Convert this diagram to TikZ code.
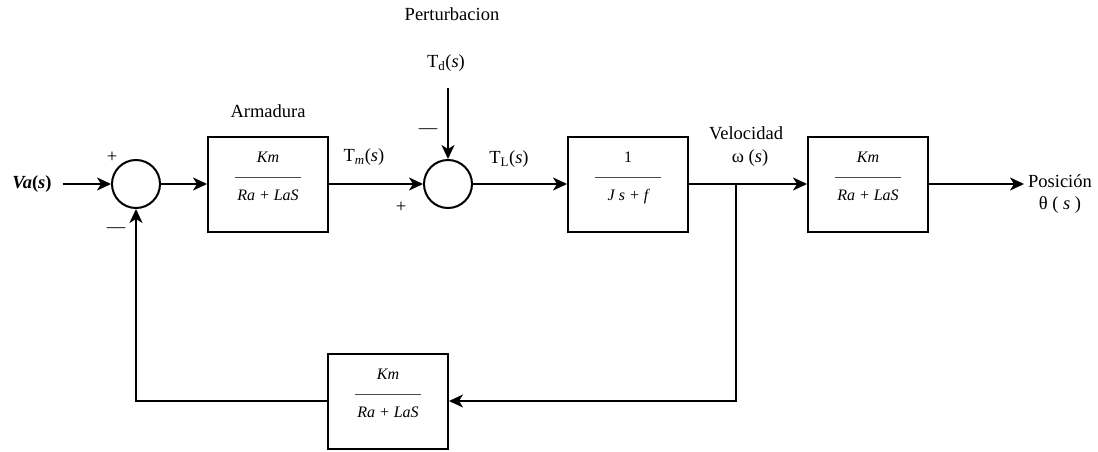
\documentclass[tikz,border=0pt]{standalone}
\usepackage{fontspec}
\setmainfont{Liberation Serif}
\usetikzlibrary{arrows.meta}
\begin{document}
\begin{tikzpicture}[x=1pt,y=1pt,
  blk/.style={draw, line width=2pt, minimum width=120pt, minimum height=95pt, inner sep=0pt},
  sumc/.style={draw, circle, line width=2pt, minimum size=48pt, inner sep=0pt},
  arr/.style={line width=1.9pt, -{Stealth[length=14pt,width=13pt,inset=4pt]}},
  lab/.style={font=\fontsize{18.5}{21}\selectfont, inner sep=0pt},
  fr/.style={font=\fontsize{16}{18}\selectfont\itshape, inner sep=0pt, anchor=base},
  fline/.style={line width=0.9pt, black!70},
]
\useasboundingbox (0,0) rectangle (1098,-452);

% blocks and summing points
\node[sumc] (s1) at (136,-184) {};
\node[blk] (b1) at (268,-184) {};
\node[sumc] (s2) at (448,-184) {};
\node[blk] (b2) at (628,-184) {};
\node[blk] (b3) at (868,-184) {};
\node[blk] (fb) at (388,-401) {};

% fractions
\node[fr] (b1n) at ([yshift=22pt]b1.center) {Km};
\node[fr] (b1d) at ([yshift=-16pt]b1.center) {Ra + LaS};
\draw[fline] ([xshift=-33pt,yshift=6.5pt]b1.center) -- ([xshift=33pt,yshift=6.5pt]b1.center);
\node[fr] (b2n) at ([yshift=22pt]b2.center) {\upshape 1};
\node[fr] (b2d) at ([yshift=-16pt]b2.center) {J s + f};
\draw[fline] ([xshift=-33pt,yshift=6.5pt]b2.center) -- ([xshift=33pt,yshift=6.5pt]b2.center);
\node[fr] (b3n) at ([yshift=22pt]b3.center) {Km};
\node[fr] (b3d) at ([yshift=-16pt]b3.center) {Ra + LaS};
\draw[fline] ([xshift=-33pt,yshift=6.5pt]b3.center) -- ([xshift=33pt,yshift=6.5pt]b3.center);
\node[fr] (fbn) at ([yshift=22pt]fb.center) {Km};
\node[fr] (fbd) at ([yshift=-16pt]fb.center) {Ra + LaS};
\draw[fline] ([xshift=-33pt,yshift=6.5pt]fb.center) -- ([xshift=33pt,yshift=6.5pt]fb.center);

% labels
\node[lab] (va) at (32,-184) {\textbf{\textit{Va}(\textit{s})}};
\node[lab] (arm) at (268,-111) {Armadura};
\node[lab] (pert) at (452,-14) {Perturbacion};
\node[lab] (tdl) at (446,-63) {T\textsubscript{d}(\textit{s})};
\node[lab] (tml) at (364,-157) {T\textsubscript{\textit{m}}(\textit{s})};
\node[lab] (tll) at (509,-159) {T\textsubscript{L}(\textit{s})};
\node[lab] (vel) at (746,-133) {Velocidad};
\node[lab] (om) at (750,-158) {ω (\textit{s})};
\node[lab] (pos) at (1060,-181) {Posición};
\node[lab] (th) at (1060,-205) {θ ( \textit{s} )};
\node[lab] (p1) at (112,-157) {+};
\node[lab] (m1) at (116,-230) {—};
\node[lab] (m2) at (428,-131) {—};
\node[lab] (p2) at (401,-207) {+};

% connectors
\coordinate (td) at (448,-88);
\coordinate (br) at (736,-184);
\coordinate (out) at (1024,-184);
\draw[arr] ([xshift=11pt]va.east) -- (s1.west);
\draw[arr] (s1.east) -- (b1.west);
\draw[arr] (b1.east) -- (s2.west);
\draw[arr] (td) -- (s2.north);
\draw[arr] (s2.east) -- (b2.west);
\draw[arr] (b2.east) -- (b3.west);
\draw[arr] (b3.east) -- (out);
\draw[arr] (br) |- (fb.east);
\draw[arr] (fb.west) -| (s1.south);
\end{tikzpicture}
\end{document}
